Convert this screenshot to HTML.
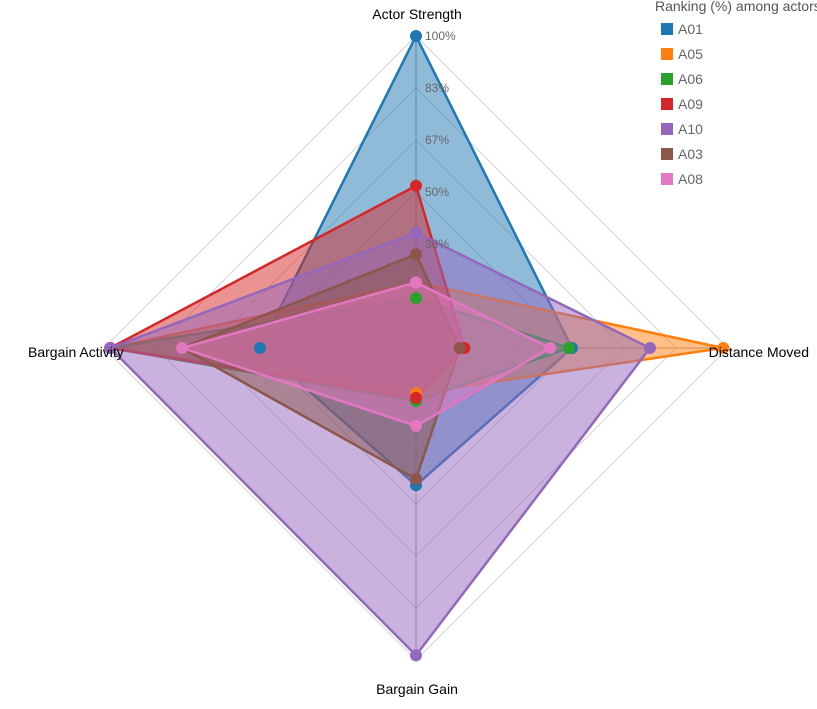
<!DOCTYPE html>
<html><head><meta charset="utf-8"><style>
body{margin:0;background:#fff;font-family:"Liberation Sans",Arial,sans-serif}
svg text{font-family:"Liberation Sans",Arial,sans-serif}
</style></head><body>
<svg id="chart" width="817" height="704" xmlns="http://www.w3.org/2000/svg">
<g id="grid"></g>
<g id="series"></g>
<g id="ticks"></g>
<text x="417" y="19" text-anchor="middle" font-size="14" fill="#000">Actor Strength</text>
<text x="809" y="357" text-anchor="end" font-size="14" fill="#000">Distance Moved</text>
<text x="417" y="694" text-anchor="middle" font-size="14" fill="#000">Bargain Gain</text>
<text x="28" y="357" font-size="14" fill="#000">Bargain Activity</text>
<text x="655" y="11" font-size="14" fill="#555">Ranking (%) among actors</text>
<g id="legend"></g>
</svg>
<script>
const axes = ["Actor Strength","Distance Moved","Bargain Gain","Bargain Activity"];
const seriesNames = ["A01","A05","A06","A09","A10","A03","A08"];
const colors = ["#1f77b4","#ff7f0e","#2ca02c","#d62728","#9467bd","#8c564b","#e377c2"];
const A01 = [1.0, 0.50, 0.44, 0.50];
const A05 = [0.21, 0.985, 0.145, 0.98];
const A06 = [0.16, 0.49, 0.17, 0.98];
const A09 = [0.52, 0.155, 0.16, 0.98];
const A10 = [0.37, 0.75, 0.985, 0.98];
const A03 = [0.30, 0.14, 0.42, 0.75];
const A08 = [0.21, 0.43, 0.25, 0.75];
const seriesValues = [A01,A05,A06,A09,A10,A03,A08];
const tickLabels = ["","33%","50%","67%","83%","100%"];
const tickValues = [1/6,2/6,3/6,4/6,5/6,1];

const NS="http://www.w3.org/2000/svg";
const cx=416, cy=348, R=312;
function pt(i,v){const a=-Math.PI/2+i*2*Math.PI/axes.length;return [cx+Math.cos(a)*v*R, cy+Math.sin(a)*v*R];}
function mk(tag,attrs,parent){const e=document.createElementNS(NS,tag);for(const k in attrs)e.setAttribute(k,attrs[k]);parent.appendChild(e);return e;}
const grid=document.getElementById('grid');
tickValues.forEach((t,j)=>{
  const p=axes.map((_,i)=>pt(i,t).join(',')).join(' ');
  const g=mk('polygon',{points:p,fill:'none',stroke:'#d4d4d4','stroke-width':1},grid);
  
  
});
axes.forEach((_,i)=>{
  const [x,y]=pt(i,1);
  const l=mk('line',{x1:cx,y1:cy,x2:x,y2:y,stroke:'#999','stroke-width':1},grid);
  
  
});
const sg=document.getElementById('series');
seriesValues.forEach((vals,s)=>{
  const p=vals.map((v,i)=>pt(i,v).join(',')).join(' ');
  const poly=mk('polygon',{points:p,fill:colors[s],'fill-opacity':0.5,stroke:colors[s],'stroke-width':2.5,'stroke-linejoin':'miter'},sg);
  
  
});
seriesValues.forEach((vals,s)=>{
  vals.forEach((v,i)=>{
    const [x,y]=pt(i,v);
    const c=mk('circle',{cx:x,cy:y,r:6,fill:colors[s]},sg);
    
    
  });
});
const tg=document.getElementById('ticks');
tickValues.forEach((t,j)=>{
  if(!tickLabels[j]) return;
  const [x,y]=pt(0,t);
  const tx=mk('text',{x:x+9,y:y+1,'font-size':12,fill:'#666','dominant-baseline':'middle'},tg);
  tx.textContent=tickLabels[j];
  
  
});
const lg=document.getElementById('legend');
seriesNames.forEach((n,s)=>{
  const y=23+s*25;
  const r=mk('rect',{x:661,y:y,width:12,height:12,fill:colors[s]},lg);
  
  
  const t=mk('text',{x:678,y:y+11,'font-size':14,fill:'#666'},lg);
  t.textContent=n;
  
  
});
</script>
</body></html>
